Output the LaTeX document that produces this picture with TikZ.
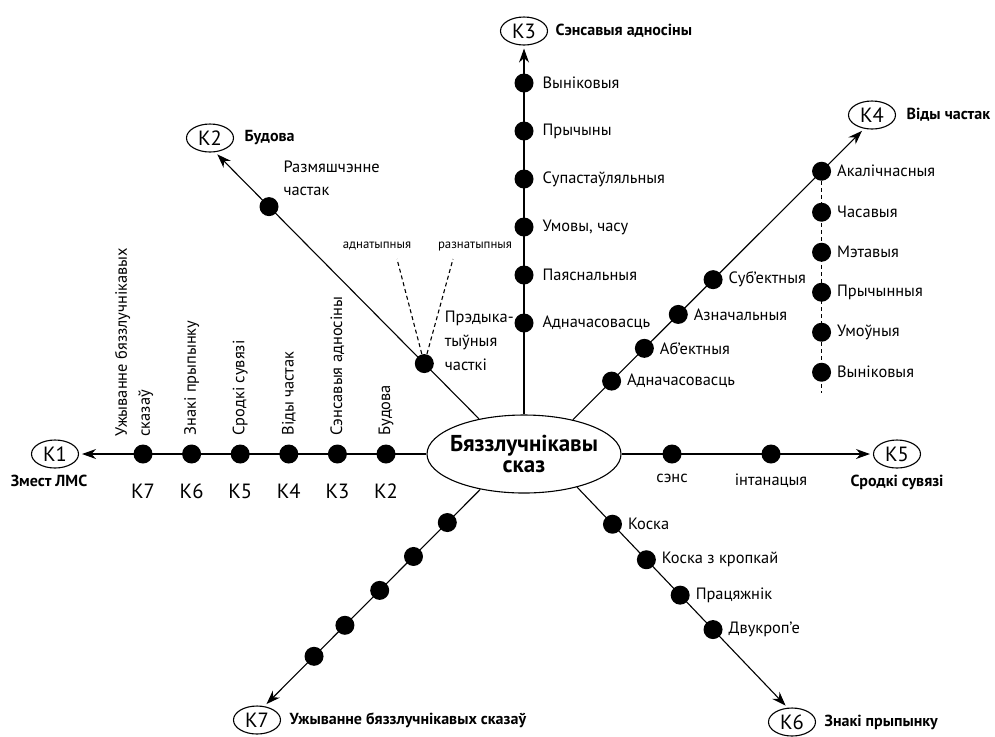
\documentclass[tikz,border=0pt]{standalone}
\usepackage{fontspec}
\setmainfont{PT Sans}
\usetikzlibrary{arrows.meta,positioning,calc,shapes.geometric}

\begin{document}
\begin{tikzpicture}[x=0.5pt,y=-0.5pt,line width=0.55pt,
  >={Stealth[length=7pt,width=5pt]},
  arr/.style={->,shorten >=1.5pt},
  dot/.style={circle,fill=black,inner sep=0pt,minimum size=9.5pt},
  kell/.style={draw,ellipse,inner sep=0pt,minimum width=23.5pt,minimum height=14pt,
               font=\fontsize{10.3}{11}\selectfont},
  ttl/.style={font=\fontsize{8}{9}\bfseries\selectfont,inner sep=1pt},
  lbl/.style={font=\fontsize{8.2}{11.5}\selectfont,inner sep=1pt},
  sml/.style={font=\fontsize{6.4}{8}\selectfont,inner sep=1pt},
  rot/.style={lbl,rotate=90,anchor=west},
  klbl/.style={font=\fontsize{10.3}{11}\selectfont,inner sep=1pt},
  dsh/.style={dash pattern=on 2pt off 1.5pt}]
\useasboundingbox (0,0) rectangle (995,736);

\node[draw,ellipse,minimum width=97pt,minimum height=39pt,inner sep=0pt,inner xsep=-3pt,
      align=center,font=\fontsize{11.5}{10.5}\bfseries\selectfont] (c) at (524,454) {Бяззлучнікавы\\сказ};

\node[kell] (k1) at (55,454)  {К1};
\node[kell] (k2) at (210,138) {К2};
\node[kell] (k3) at (524,31)  {К3};
\node[kell] (k4) at (872,115) {К4};
\node[kell] (k5) at (897,454) {К5};
\node[kell] (k6) at (792,722) {К6};
\node[kell] (k7) at (257,720) {К7};

\node[ttl,below=2pt of k1,xshift=-3pt] (t1) {Змест ЛМС};
\node[ttl,right=4pt of k2] (t2) {Будова};
\node[ttl,right=2.5pt of k3] (t3) {Сэнсавыя адносіны};
\node[ttl,right=4pt of k4] (t4) {Віды частак};
\node[ttl,below=2pt of k5] (t5) {Сродкі сувязі};
\node[ttl,right=3pt of k6] (t6) {Знакі прыпынку};
\node[ttl,right=3pt of k7] (t7) {Ужыванне бяззлучнікавых сказаў};

\draw[arr] (c) -- (k1);
\draw[arr] (c.142) -- (k2.290);
\draw[arr] (c) -- (k3);
\draw[arr] (c.35) -- (k4.240);
\draw[arr] (c) -- (k5);
\draw[arr] (c.328) -- (k6.107);
\draw[arr] (c.219) -- (k7.62);

% K1
\foreach \txt/\kk [count=\n from 0] in {Будова/К2,Сэнсавыя адносіны/К3,Віды частак/К4,Сродкі сувязі/К5,Знакі прыпынку/К6} {
  \node[dot,label={[klbl,label distance=8.5pt]below:\kk}] (r\n) at (386-48.6*\n,454) {};
  \node[rot] (rl\n) at ($(r\n.north)+(0,-6)$) {\txt};
}
\node[dot,label={[klbl,label distance=8.5pt]below:К7}] (r5) at (143,454) {};
\node[rot,align=left] (rl5) at (134,439) {Ужыванне бяззлучнікавых\\сказаў};

% K2
\node[dot] (b1) at ($(c.142)!0.2075!(k2.290)$) {};
\node[dot] (b2) at ($(c.142)!0.796!(k2.290)$) {};
\node[lbl,align=left,anchor=south west] (b2l) at ($(b2)+(12,-8)$) {Размяшчэнне\\частак};
\node[lbl,align=left,anchor=south west,font=\fontsize{8.2}{12.2}\selectfont] (b1l) at ($(b1)+(18,10)$) {Прэдыка-\\тыўныя\\часткі};
\node[sml] (adn) at (377,246) {аднатыпныя};
\node[sml] (rzn) at (475,246) {разнатыпныя};
\coordinate (adne) at (397,259);
\coordinate (rzne) at (453,259);
\draw[dsh] (b1) -- (adne);
\draw[dsh] (b1) -- (rzne);

% K3
\foreach \y/\txt [count=\n] in {83/Выніковыя,131/Прычыны,179/Супастаўляльныя,227/{Умовы, часу},275/Паяснальныя,323/Адначасовасць}
  \node[dot,label={[lbl,label distance=3pt]right:\txt}] (s\n) at (524,\y) {};

% K4
\foreach \f/\txt/\nm in {0.133/Адначасовасць/a1,0.2455/Аб’ектныя/a2,0.362/Азначальныя/a3,0.4815/Суб’ектныя/a4,0.854/Акалічнасныя/akal}
  \node[dot,label={[lbl,label distance=1.5pt]right:\txt}] (\nm) at ($(c.35)!\f!(k4.240)$) {};
\coordinate (vend) at ($(akal)+(0,222)$);
\draw[dsh] (akal) -- (vend);
\foreach \d/\txt [count=\n] in {41/Часавыя,81/Мэтавыя,121/Прычынныя,161/Умоўныя,201/Выніковыя}
  \node[dot,label={[lbl,label distance=1.5pt]right:\txt}] (v\n) at ($(akal)+(0,\d)$) {};

% K5
\node[dot,label={[lbl,label distance=3.5pt]below:сэнс}] (p1) at (672,454) {};
\node[dot,label={[lbl,label distance=3.5pt]below:інтанацыя}] (p2) at (771,454) {};

% K6
\foreach \f/\txt [count=\n] in {0.168/Коска,0.329/Коска з кропкай,0.4896/Працяжнік,0.6457/Двукроп’е}
  \node[dot,label={[lbl,label distance=1.5pt]right:\txt}] (z\n) at ($(c.328)!\f!(k6.107)$) {};

% K7
\foreach \f [count=\n] in {0.153,0.3095,0.466,0.627,0.770}
  \node[dot] (u\n) at ($(c.219)!\f!(k7.62)$) {};
\end{tikzpicture}
\end{document}
